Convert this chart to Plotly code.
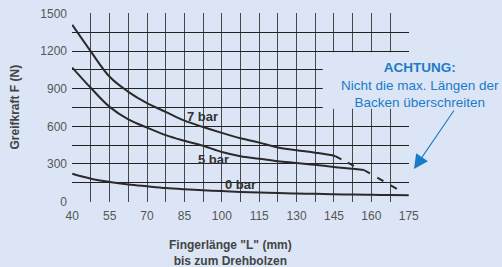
import plotly.graph_objects as go

# ---- data ----
x_grid = [40, 47.5, 55, 62.5, 70, 77.5, 85, 92.5, 100, 107.5, 115, 122.5, 130, 137.5, 145]
f7_x = x_grid + [145.5]
f7_y = [1408, 1195, 995, 875, 785, 715, 645, 595, 548, 505, 470, 432, 410, 390, 366, 362]
f7_dash_x = [145.5, 155]
f7_dash_y = [362, 265]

f5_x = x_grid + [152.5, 157]
f5_y = [1068, 905, 755, 655, 590, 530, 485, 445, 395, 362, 342, 322, 308, 293, 276, 262, 252]
f5_dash_x = [157, 171.5]
f5_dash_y = [252, 87]

f0_x = x_grid + [152.5, 160, 167.5, 175]
f0_y = [222, 183, 157, 137, 122, 108, 98, 90, 84, 77, 72, 68, 65, 62, 59, 56, 54, 52, 50]

x_ticks = [40, 55, 70, 85, 100, 115, 130, 145, 160, 175]
y_ticks = [0, 300, 600, 900, 1200, 1500]

labels = ["7 bar", "5 bar", "0 bar"]
label_x = [92.3, 96.5, 107.3]
label_y = [675, 333, 135]

BG = "#dce5f5"
LINE = "#2a2a2a"
BLUE = "#1a7bc8"

# grid positions (every half tick step), labels only on the main ticks
x_grid_vals = []
x_grid_text = []
for i, v in enumerate(x_ticks):
    x_grid_vals.append(v); x_grid_text.append(str(v))
    if i < len(x_ticks) - 1:
        x_grid_vals.append(v + 7.5); x_grid_text.append("")
y_grid_vals = []
y_grid_text = []
for i, v in enumerate(y_ticks):
    y_grid_vals.append(v); y_grid_text.append(str(v))
    if i < len(y_ticks) - 1:
        y_grid_vals.append(v + 150); y_grid_text.append("")

fig = go.Figure()
fig.add_trace(go.Scatter(x=f7_x, y=f7_y, mode="lines", line=dict(color=LINE, width=2, shape="spline")))
fig.add_trace(go.Scatter(x=f7_dash_x, y=f7_dash_y, mode="lines", line=dict(color=LINE, width=2, dash="7px,7px")))
fig.add_trace(go.Scatter(x=f5_x, y=f5_y, mode="lines", line=dict(color=LINE, width=2, shape="spline")))
fig.add_trace(go.Scatter(x=f5_dash_x, y=f5_dash_y, mode="lines", line=dict(color=LINE, width=2, dash="7px,8.5px")))
fig.add_trace(go.Scatter(x=f0_x, y=f0_y, mode="lines", line=dict(color=LINE, width=2, shape="spline")))

for t, lx, ly in zip(labels, label_x, label_y):
    fig.add_annotation(x=lx, y=ly, text="<b>%s</b>" % t, showarrow=False,
                       font=dict(family="Liberation Sans", size=13, color="#333333"))

# background patch behind warning text
fig.add_shape(type="rect", xref="x", yref="y", x0=140.5, x1=176.5, y0=740, y1=1190,
              fillcolor=BG, line=dict(width=0), layer="above")

fig.add_annotation(x=1.0326, y=0.619, xref="paper", yref="paper", showarrow=False, align="center",
                   xanchor="center", yanchor="middle",
                   text="<b>ACHTUNG:</b><br>Nicht die max. Längen der<br>Backen überschreiten",
                   font=dict(family="Liberation Sans", size=13.5, color=BLUE))
fig.add_annotation(x=1.0148, y=0.1746, xref="paper", yref="paper", ax=41, ay=-60, text="", showarrow=True,
                   arrowhead=2, arrowsize=2.6, arrowwidth=1.1, arrowcolor=BLUE, standoff=0)

# axis titles
fig.add_annotation(x=-0.172, y=0.5, xref="paper", yref="paper", showarrow=False, textangle=-90,
                   xanchor="center", yanchor="middle",
                   text="<b>Greifkraft F (N)</b>", font=dict(size=12, color="#444444"))
fig.add_annotation(x=0.469, y=-0.18, xref="paper", yref="paper", showarrow=False, yanchor="top",
                   xanchor="center",
                   text="<b>Fingerlänge \"L\" (mm)<br>bis zum Drehbolzen</b>",
                   font=dict(size=12, color="#444444"))

fig.update_layout(
    width=502, height=267,
    margin=dict(l=72, r=93, t=13, b=65),
    paper_bgcolor=BG, plot_bgcolor=BG,
    showlegend=False,
    font=dict(family="Liberation Sans", size=12, color="#555555"),
)
fig.update_xaxes(
    range=[39.9, 175.1], tickvals=x_grid_vals, ticktext=x_grid_text,
    showgrid=True, gridcolor="#474747", gridwidth=1.3, zeroline=False, automargin=False,
    tickfont=dict(size=12, color="#555555"), ticklabelstandoff=5,
)
fig.update_yaxes(
    range=[-3, 1503], tickvals=y_grid_vals, ticktext=y_grid_text,
    showgrid=True, gridcolor="#222222", gridwidth=1, zeroline=False, automargin=False,
    tickfont=dict(size=12, color="#555555"), ticklabelstandoff=4,
)

fig.write_html("out.html", config={"displayModeBar": False},
               post_script="document.body.style.margin='0';document.body.style.background='%s';" % BG)
